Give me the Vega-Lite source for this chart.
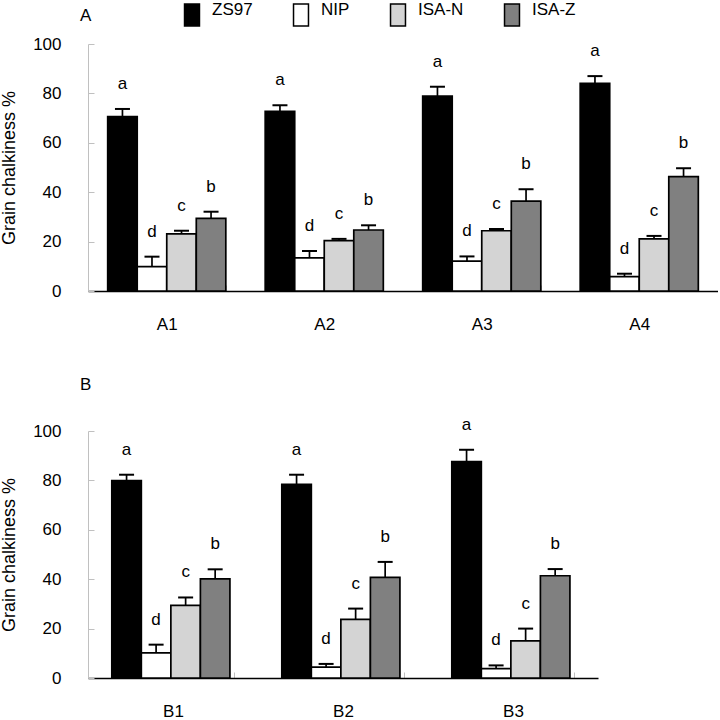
{
  "$schema": "https://vega.github.io/schema/vega-lite/v6.json",
  "padding": {"top": 3, "left": 0, "right": 0, "bottom": 0},
  "background": "white",
  "config": {
    "font": "Liberation Sans",
    "view": {"stroke": null},
    "axis": {"grid": false, "labelFont": "Liberation Sans", "titleFont": "Liberation Sans", "labelColor": "black", "titleColor": "black", "labelFontSize": 17, "titleFontSize": 18, "titleFontWeight": "normal"},
    "title": {"fontSize": 17, "fontWeight": "normal", "anchor": "start", "font": "Liberation Sans", "color": "black"}
  },
  "datasets": {
    "A": [
      {"group": "A1", "geno": "ZS97", "mean": 70.6, "upper": 73.7, "letter": "a"},
      {"group": "A1", "geno": "NIP", "mean": 9.9, "upper": 13.9, "letter": "d"},
      {"group": "A1", "geno": "ISA-N", "mean": 23.1, "upper": 24.4, "letter": "c"},
      {"group": "A1", "geno": "ISA-Z", "mean": 29.4, "upper": 32.1, "letter": "b"},
      {"group": "A2", "geno": "ZS97", "mean": 72.7, "upper": 75.2, "letter": "a"},
      {"group": "A2", "geno": "NIP", "mean": 13.4, "upper": 16.2, "letter": "d"},
      {"group": "A2", "geno": "ISA-N", "mean": 20.4, "upper": 21.1, "letter": "c"},
      {"group": "A2", "geno": "ISA-Z", "mean": 24.7, "upper": 26.6, "letter": "b"},
      {"group": "A3", "geno": "ZS97", "mean": 78.9, "upper": 82.7, "letter": "a"},
      {"group": "A3", "geno": "NIP", "mean": 12.1, "upper": 14.0, "letter": "d"},
      {"group": "A3", "geno": "ISA-N", "mean": 24.4, "upper": 25.1, "letter": "c"},
      {"group": "A3", "geno": "ISA-Z", "mean": 36.4, "upper": 41.2, "letter": "b"},
      {"group": "A4", "geno": "ZS97", "mean": 84.1, "upper": 87.0, "letter": "a"},
      {"group": "A4", "geno": "NIP", "mean": 5.8, "upper": 7.0, "letter": "d"},
      {"group": "A4", "geno": "ISA-N", "mean": 21.1, "upper": 22.3, "letter": "c"},
      {"group": "A4", "geno": "ISA-Z", "mean": 46.3, "upper": 49.7, "letter": "b"}
    ],
    "B": [
      {"group": "B1", "geno": "ZS97", "mean": 79.9, "upper": 82.3, "letter": "a"},
      {"group": "B1", "geno": "NIP", "mean": 10.2, "upper": 13.5, "letter": "d"},
      {"group": "B1", "geno": "ISA-N", "mean": 29.4, "upper": 32.6, "letter": "c"},
      {"group": "B1", "geno": "ISA-Z", "mean": 40.1, "upper": 44.0, "letter": "b"},
      {"group": "B2", "geno": "ZS97", "mean": 78.4, "upper": 82.3, "letter": "a"},
      {"group": "B2", "geno": "NIP", "mean": 4.4, "upper": 5.7, "letter": "d"},
      {"group": "B2", "geno": "ISA-N", "mean": 23.7, "upper": 28.1, "letter": "c"},
      {"group": "B2", "geno": "ISA-Z", "mean": 40.7, "upper": 47.0, "letter": "b"},
      {"group": "B3", "geno": "ZS97", "mean": 87.6, "upper": 92.4, "letter": "a"},
      {"group": "B3", "geno": "NIP", "mean": 3.8, "upper": 5.1, "letter": "d"},
      {"group": "B3", "geno": "ISA-N", "mean": 15.0, "upper": 20.0, "letter": "c"},
      {"group": "B3", "geno": "ISA-Z", "mean": 41.4, "upper": 44.1, "letter": "b"}
    ]
  },
  "spacing": 43,
  "resolve": {"legend": {"fill": "independent"}},
  "vconcat": [
    {
      "width": 630,
      "height": 247,
      "data": {"name": "A"},
      "encoding": {
        "x": {"field": "group", "type": "nominal", "title": null,
          "scale": {"paddingInner": 0.25, "paddingOuter": 0.125},
          "axis": {"labelAngle": 0, "tickBand": "extent", "tickColor": "#c0c0c0", "tickSize": -6, "domainColor": "black", "domainWidth": 1.5, "labelPadding": 31}},
        "xOffset": {"field": "geno", "type": "nominal", "sort": ["ZS97", "NIP", "ISA-N", "ISA-Z"], "scale": {"paddingInner": 0, "paddingOuter": 0}}
      },
      "layer": [
        {
          "mark": {"type": "bar", "stroke": "black", "strokeWidth": 1.7},
          "encoding": {
            "y": {"field": "mean", "type": "quantitative", "title": "Grain chalkiness %",
              "scale": {"domain": [0, 100]},
              "axis": {"values": [0, 20, 40, 60, 80, 100], "domainColor": "#c0c0c0", "tickColor": "#c0c0c0", "tickSize": -6, "labelPadding": 33, "titlePadding": 14}},
            "fill": {"field": "geno", "type": "nominal",
              "scale": {"domain": ["ZS97", "NIP", "ISA-N", "ISA-Z"], "range": ["#000000", "#ffffff", "#d4d4d4", "#808080"]},
              "legend": {"orient": "none", "legendX": -8, "legendY": -41, "direction": "horizontal", "title": "A", "titleOrient": "left", "titlePadding": 88, "titleFontSize": 17, "titleFontWeight": "normal", "titleColor": "black", "labelFontSize": 17, "labelColor": "black", "labelBaseline": "alphabetic", "symbolType": "M-0.68,-1H0.68V1H-0.68Z", "symbolSize": 484, "symbolStrokeColor": "black", "symbolStrokeWidth": 1.5, "labelOffset": 8, "columnPadding": 36}}
          }
        },
        {
          "mark": {"type": "rule", "strokeWidth": 1.7, "color": "black"},
          "encoding": {"y": {"field": "mean", "type": "quantitative"}, "y2": {"field": "upper"}}
        },
        {
          "mark": {"type": "tick", "orient": "horizontal", "size": 15, "thickness": 2, "color": "black", "opacity": 1},
          "encoding": {"y": {"field": "upper", "type": "quantitative"}}
        },
        {
          "mark": {"type": "text", "dy": -25, "fontSize": 17, "color": "black"},
          "encoding": {"y": {"field": "upper", "type": "quantitative"}, "text": {"field": "letter"}}
        }
      ]
    },
    {
      "width": 510,
      "height": 247,
      "data": {"name": "B"},
      "title": {"text": "B", "offset": 22, "frame": "group", "dx": -8},
      "encoding": {
        "x": {"field": "group", "type": "nominal", "title": null,
          "scale": {"paddingInner": 0.28, "paddingOuter": 0.14},
          "axis": {"labelAngle": 0, "tickBand": "extent", "tickColor": "#c0c0c0", "tickSize": -6, "domainColor": "black", "domainWidth": 1.5, "labelPadding": 31}},
        "xOffset": {"field": "geno", "type": "nominal", "sort": ["ZS97", "NIP", "ISA-N", "ISA-Z"], "scale": {"paddingInner": 0, "paddingOuter": 0}}
      },
      "layer": [
        {
          "mark": {"type": "bar", "stroke": "black", "strokeWidth": 1.7},
          "encoding": {
            "y": {"field": "mean", "type": "quantitative", "title": "Grain chalkiness %",
              "scale": {"domain": [0, 100]},
              "axis": {"values": [0, 20, 40, 60, 80, 100], "domainColor": "#c0c0c0", "tickColor": "#c0c0c0", "tickSize": -6, "labelPadding": 33, "titlePadding": 14}},
            "fill": {"field": "geno", "type": "nominal",
              "scale": {"domain": ["ZS97", "NIP", "ISA-N", "ISA-Z"], "range": ["#000000", "#ffffff", "#d4d4d4", "#808080"]},
              "legend": null}
          }
        },
        {
          "mark": {"type": "rule", "strokeWidth": 1.7, "color": "black"},
          "encoding": {"y": {"field": "mean", "type": "quantitative"}, "y2": {"field": "upper"}}
        },
        {
          "mark": {"type": "tick", "orient": "horizontal", "size": 15, "thickness": 2, "color": "black", "opacity": 1},
          "encoding": {"y": {"field": "upper", "type": "quantitative"}}
        },
        {
          "mark": {"type": "text", "dy": -25, "fontSize": 17, "color": "black"},
          "encoding": {"y": {"field": "upper", "type": "quantitative"}, "text": {"field": "letter"}}
        }
      ]
    }
  ]
}
